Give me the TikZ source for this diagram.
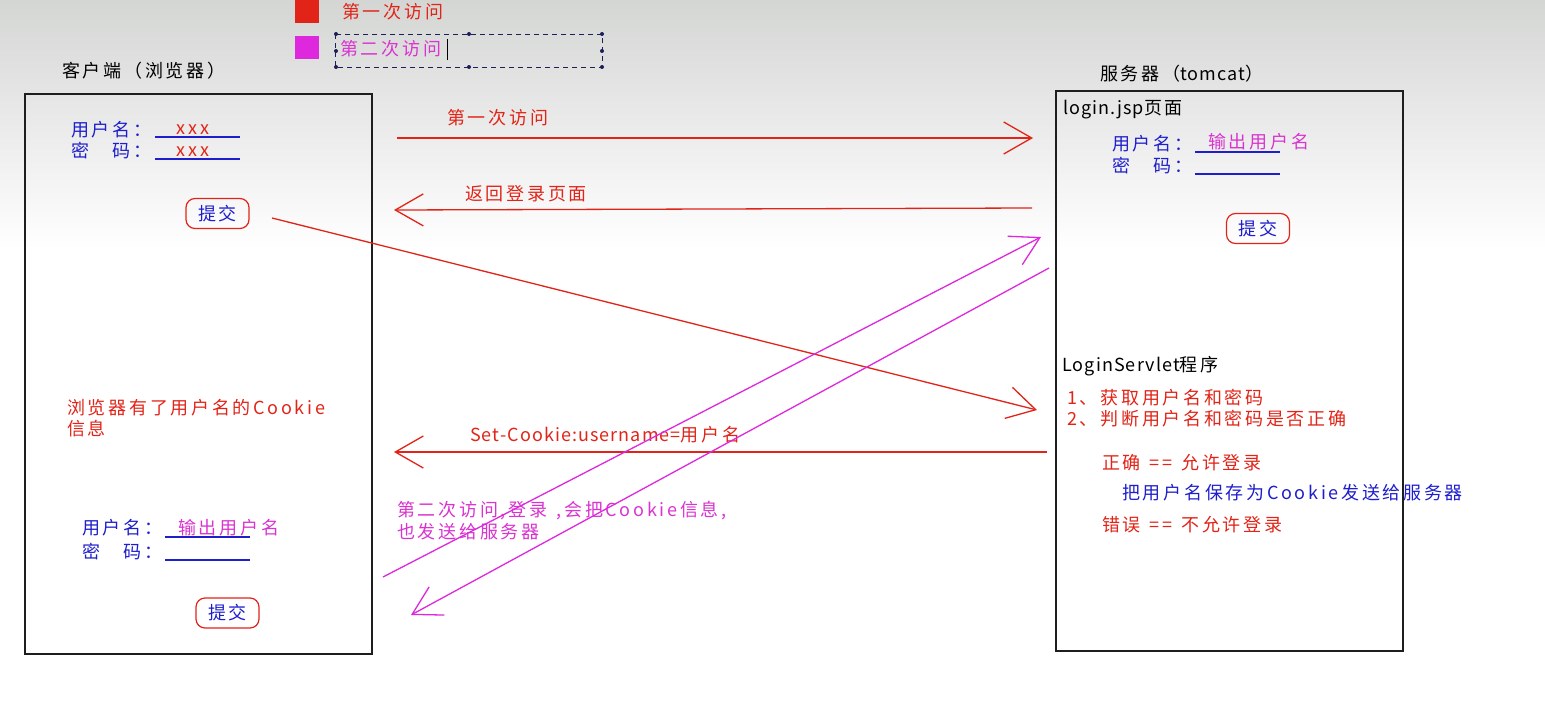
\documentclass[tikz,border=0pt]{standalone}
\usepackage{fontspec}
\setmainfont{Noto Sans CJK SC}[LetterSpace=15]
\newfontfamily\narrowlat{Noto Sans CJK SC}[LetterSpace=6]
\usetikzlibrary{arrows.meta}
\definecolor{cred}{RGB}{226,36,24}
\definecolor{cblue}{RGB}{30,30,205}
\definecolor{cmag}{RGB}{222,40,222}
\definecolor{cmagt}{RGB}{218,52,208}
\definecolor{cbox}{RGB}{30,30,30}
\definecolor{cnavy}{RGB}{30,30,90}
\definecolor{cbg}{RGB}{212,214,212}
\newcommand{\gap}{\hspace{9pt}}
\tikzset{
  txt/.style={anchor=base west, inner sep=0pt, font=\fontsize{18}{21}\selectfont},
  boxframe/.style={draw=cbox, line width=1.4pt},
  btn/.style={draw=cred, line width=1.2pt, rounded corners=9pt, minimum width=63pt, minimum height=30pt, inner sep=0pt, text=cblue, font=\fontsize{18}{21}\selectfont},
  uline/.style={draw=cblue, line width=1.3pt},
  arr/.style={line width=1.3pt, -{Straight Barb[length=28pt,width=32pt]}},
}
\begin{document}
\begin{tikzpicture}[x=1pt,y=-1pt]
\useasboundingbox (0,0) rectangle (1545,723);
\shade[top color=cbg, bottom color=white] (0,0) rectangle (1545,250);
\fill[white] (0,250) rectangle (1545,723);

% legend
\fill[cred] (295,0) rectangle (319,23);
\fill[cmag] (295,36) rectangle (319,59);
\node[txt, text=cred] (leg1) at (342,18.5) {第一次访问};
\node[txt, text=cmagt] (leg2) at (340,55.5) {第二次访问};
\draw[cnavy, line width=1pt, dashed, dash pattern=on 5pt off 4pt] (335,34) rectangle (602,67);
\foreach \p in {(336,34),(469,34),(602,34),(336,51),(602,51),(336,67),(469,67),(602,67)}
  \fill[cnavy] \p circle (2pt);
\draw[black, line width=1pt] (447,39) -- (447,60);

% titles
\node[txt] (clientlbl) at (62,77) {客户端（浏览器）};
\node[txt] (serverlbl) at (1100,80) {服务器（{\narrowlat tomcat}）};

% client box
\draw[boxframe] (25,94) rectangle (372,654);
\node[txt, text=cblue] (cuser) at (71,136.5) {用户名：};
\node[txt, text=cblue] (cpwd) at (71,157.5) {密　码：};
\draw[uline] (155,137) -- (240,137);
\draw[uline] (155,159) -- (240,159);
\node[txt, text=cred, anchor=base] (cx1) at (193,134) {xxx};
\node[txt, text=cred, anchor=base] (cx2) at (193,156) {xxx};
\node[btn] (cbtn1) at (217.5,213.5) {提交};

\node[txt, text=cred] (cmsg1) at (67,414.5) {浏览器有了用户名的Cookie};
\node[txt, text=cred] (cmsg2) at (67,435) {信息};

\node[txt, text=cblue] (c2user) at (82,534.5) {用户名：};
\node[txt, text=cblue] (c2pwd) at (82,558.5) {密　码：};
\draw[uline] (165,537) -- (250,537);
\draw[uline] (165,560) -- (250,560);
\node[txt, text=cmagt] (c2out) at (178,534) {输出用户名};
\node[btn] (cbtn2) at (227.5,613) {提交};

% server box
\draw[boxframe] (1056,91) rectangle (1403,651);
\node[txt] (sjsp) at (1063,114.5) {{\narrowlat login.jsp}页面};
\node[txt, text=cblue] (suser) at (1112,150) {用户名：};
\node[txt, text=cblue] (spwd) at (1112,172.5) {密　码：};
\draw[uline] (1195,152) -- (1280,152);
\draw[uline] (1195,174) -- (1280,174);
\node[txt, text=cmagt] (sout) at (1208,148.5) {输出用户名};
\node[btn] (sbtn) at (1258,228.5) {提交};

\node[txt] (sserv) at (1062,371.5) {{\narrowlat LoginServlet}程序};
\node[txt, text=cred] (s1) at (1067,404.5) {1、获取用户名和密码};
\node[txt, text=cred] (s2) at (1067,425.5) {2、判断用户名和密码是否正确};
\node[txt, text=cred] (sok) at (1102,469.5) {正确\gap==\gap 允许登录};
\node[txt, text=cblue] (ssave) at (1122,499.5) {把用户名保存为Cookie发送给服务器};
\node[txt, text=cred] (serr) at (1102,531.5) {错误\gap==\gap 不允许登录};

% arrow labels
\node[txt, text=cred] (l1) at (447,124.5) {第一次访问};
\node[txt, text=cred] (l2) at (465,200.5) {返回登录页面};
\node[txt, text=cred] (l3) at (470,441.5) {{\narrowlat Set-Cookie:username=}用户名};
\node[txt, text=cmagt] (l4) at (397,516.5) {第二次访问,\hspace{3pt}登录\gap,\hspace{3pt}会把Cookie信息,};
\node[txt, text=cmagt] (l5) at (397,538.5) {也发送给服务器};

% connector end points
\coordinate (a1s) at (397,138);
\coordinate (a1e) at (1033,138);
\coordinate (a2s) at (1032,208);
\coordinate (a2e) at (394,210);
\coordinate (a3s) at (272,218);
\coordinate (a3e) at (1037,410);
\coordinate (a4s) at (1047,452);
\coordinate (a4e) at (394,452);
\coordinate (a5s) at (383,577);
\coordinate (a5e) at (1041,237);
\coordinate (a6s) at (1049,268);
\coordinate (a6e) at (411,615);

\draw[arr, cred] (a1s) -- (a1e);
\draw[arr, cred] (a2s) -- (a2e);
\draw[arr, cred] (a3s) -- (a3e);
\draw[arr, cred] (a4s) -- (a4e);
\draw[arr, cmag] (a5s) -- (a5e);
\draw[arr, cmag] (a6s) -- (a6e);
\end{tikzpicture}
\end{document}
